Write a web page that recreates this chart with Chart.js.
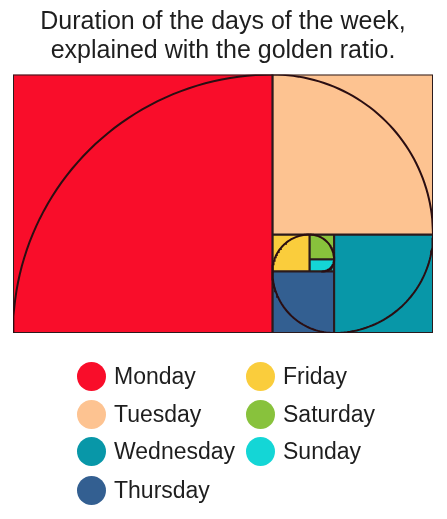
<!DOCTYPE html>
<html>
<head>
<meta charset="utf-8">
<script src="https://cdn.jsdelivr.net/npm/chart.js@4"></script>
<style>
  body { margin: 0; background: #fff; }
  #wrap { position: relative; width: 447px; height: 519px; }
  #chart { position: absolute; left: 0; top: 0; }
  .item { position: absolute; display: flex; align-items: center; font: 23px "Liberation Sans", Arial, sans-serif; color: #1e1e1e; white-space: nowrap; }
  .dot { width: 29px; height: 29px; border-radius: 50%; margin-right: 8px; }
</style>
</head>
<body>
<div id="wrap">
  <canvas id="chart" width="447" height="519"></canvas>
</div>
<script>
const titleLines = ['Duration of the days of the week,', 'explained with the golden ratio.'];
const days = ['Monday', 'Tuesday', 'Wednesday', 'Thursday', 'Friday', 'Saturday', 'Sunday'];
const durations = [21, 13, 8, 5, 3, 2, 1];
const dayColors = ['#f90d2a', '#fdc391', '#0897a8', '#335f91', '#facd3c', '#88c23c', '#14d6d6'];

// lay the squares out in a spiral (left, top, right, bottom, ...)
const buildSpiral = () => {
  const box = { x0: 0, x1: durations[0] + durations[1], y0: 0, y1: durations[0] };
  const rects = [];
  const arcs = [];
  durations.forEach((s, i) => {
    const last = i === durations.length - 1;
    const dir = i % 4;
    let r, c;
    if (dir === 0) { r = { x0: box.x0, x1: box.x0 + s, y0: box.y0, y1: box.y1 }; c = { x: box.x0 + s, y: box.y0 }; box.x0 += s; }
    if (dir === 1) { r = { x0: box.x0, x1: box.x1, y0: box.y1 - s, y1: box.y1 }; c = { x: box.x0, y: box.y1 - s }; box.y1 -= s; }
    if (dir === 2) { r = { x0: box.x1 - s, x1: box.x1, y0: box.y0, y1: box.y1 }; c = { x: box.x1 - s, y: box.y1 }; box.x1 -= s; }
    if (dir === 3) { r = { x0: box.x0, x1: box.x1, y0: box.y0, y1: box.y0 + s }; c = { x: box.x1, y: box.y0 + s }; box.y0 += s; }
    // the last day takes whatever is left
    if (last) r = { x0: Math.min(box.x0, r.x0), x1: Math.max(box.x1, r.x1), y0: Math.min(box.y0, r.y0), y1: Math.max(box.y1, r.y1) };
    rects.push(r);
    const a0 = Math.PI - dir * Math.PI / 2;
    const pts = [];
    for (let k = 0; k <= 48; k++) {
      const a = a0 - (k / 48) * Math.PI / 2;
      pts.push({ x: c.x + s * Math.cos(a), y: c.y + s * Math.sin(a) });
    }
    arcs.push(pts);
  });
  return { rects, arcs };
};

const { rects, arcs } = buildSpiral();

const datasets = [];
rects.forEach((r, i) => {
  datasets.push({
    label: days[i],
    data: [{ x: r.x0, y: r.y0 }, { x: r.x1, y: r.y0 }, { x: r.x1, y: r.y1 }, { x: r.x0, y: r.y1 }, { x: r.x0, y: r.y0 }],
    showLine: true,
    fill: 'shape',
    backgroundColor: dayColors[i],
    borderColor: '#2b1a1c',
    borderWidth: 2,
    pointRadius: 0,
    order: 2
  });
});
arcs.forEach(pts => {
  datasets.push({
    data: pts,
    showLine: true,
    fill: false,
    borderColor: '#2a0e12',
    borderWidth: 2,
    pointRadius: 0,
    order: 1
  });
});
const total = durations[0] + durations[1];

new Chart(document.getElementById('chart'), {
  type: 'scatter',
  data: { datasets },
  options: {
    responsive: false,
    animation: false,
    layout: { padding: { left: 13, right: 14, top: 2, bottom: 186 } },
    scales: {
      x: { type: 'linear', min: 0, max: total, display: false },
      y: { type: 'linear', min: 0, max: durations[0], display: false }
    },
    plugins: {
      legend: { display: false },
      tooltip: { enabled: false },
      title: {
        display: true,
        text: titleLines,
        color: '#1e1e1e',
        font: { family: '"Liberation Sans", Arial, sans-serif', size: 25, weight: 'normal', lineHeight: 1.15 },
        padding: { top: 6, bottom: 9 }
      }
    }
  }
});

// legend in two columns, filled top to bottom
const wrap = document.getElementById('wrap');
const rowTop = [362, 400, 437, 476];
days.forEach((d, i) => {
  const col = i < 4 ? 0 : 1;
  const row = i < 4 ? i : i - 4;
  const el = document.createElement('div');
  el.className = 'item';
  el.style.left = (col === 0 ? 77 : 246) + 'px';
  el.style.top = rowTop[row] + 'px';
  el.innerHTML = '<span class="dot" style="background:' + dayColors[i] + '"></span>' + d;
  wrap.appendChild(el);
});
</script>
</body>
</html>
